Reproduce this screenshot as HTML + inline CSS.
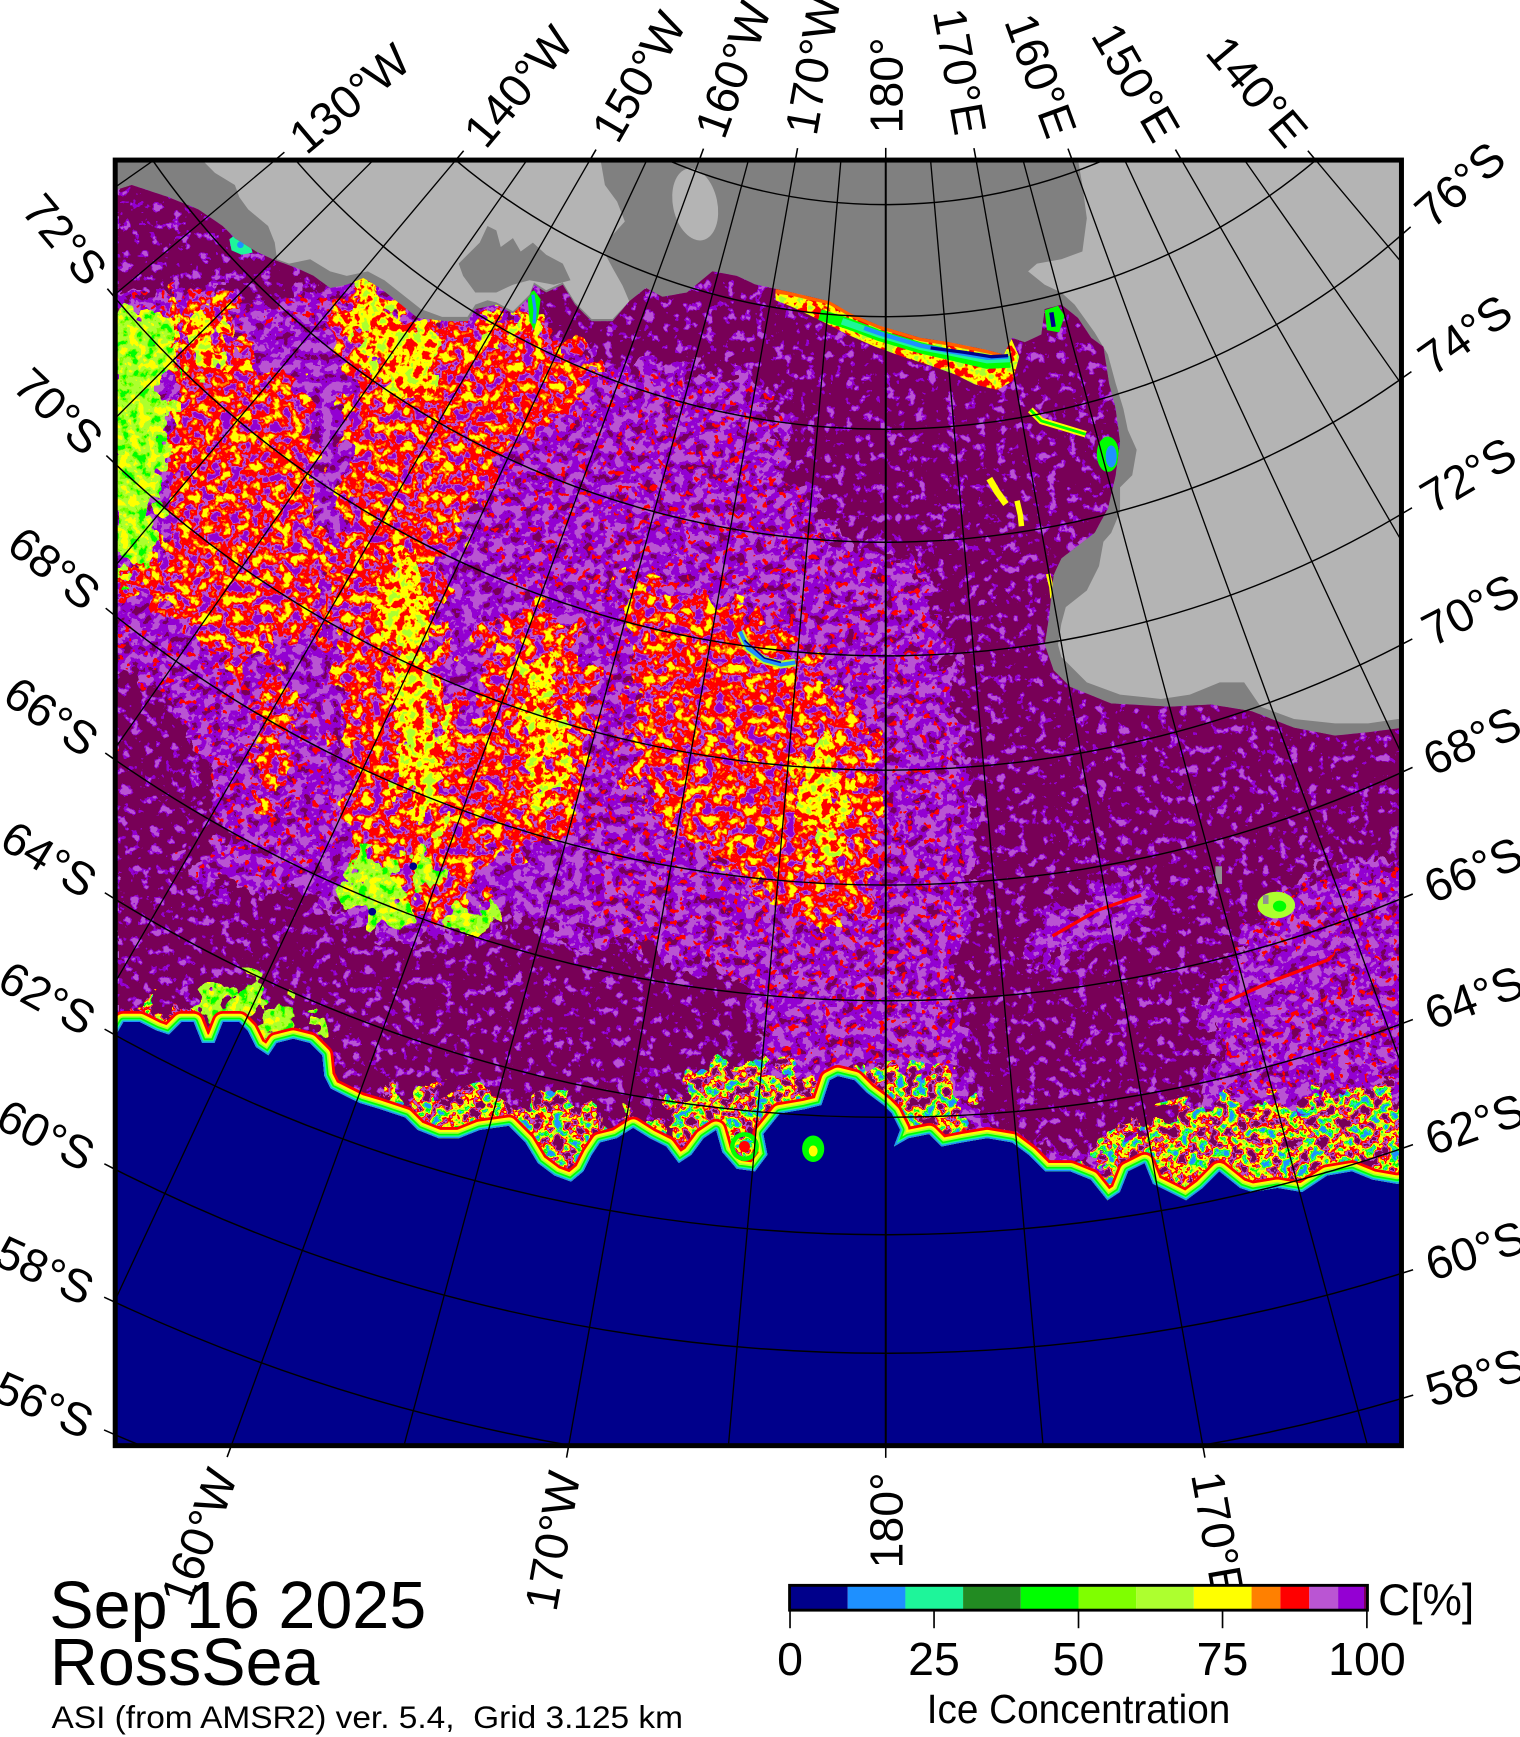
<!DOCTYPE html>
<html><head><meta charset="utf-8">
<style>html,body{margin:0;padding:0;background:#fff;width:1520px;height:1737px;overflow:hidden}svg{display:block}</style>
</head><body>
<svg xmlns="http://www.w3.org/2000/svg" width="1520" height="1737" viewBox="0 0 1372 1568" preserveAspectRatio="none" font-family="'Liberation Sans', Arial, sans-serif">
<defs>
<filter id="fV" filterUnits="userSpaceOnUse" x="104" y="144" width="1162" height="1162" color-interpolation-filters="sRGB">
<feTurbulence type="fractalNoise" baseFrequency="0.11" numOctaves="3" seed="11"/>
<feColorMatrix type="matrix" values="1 0 0 0 0 1 0 0 0 0 1 0 0 0 0 0 0 0 0 1"/>
<feComponentTransfer><feFuncR type="linear" slope="2.4" intercept="-0.7"/><feFuncG type="linear" slope="2.4" intercept="-0.7"/><feFuncB type="linear" slope="2.4" intercept="-0.7"/></feComponentTransfer>
<feComponentTransfer>
<feFuncR type="discrete" tableValues=".471 .471 .471 .58 .58 .58 .58 .58 .58 .58 .58 .58 .729 .729 .729 .729 .729 .729 .729 .729"/>
<feFuncG type="discrete" tableValues="0 0 0 0 0 0 0 0 0 0 0 0 .333 .333 .333 .333 .333 .333 .333 .333"/>
<feFuncB type="discrete" tableValues=".345 .345 .345 .827 .827 .827 .827 .827 .827 .827 .827 .827 .827 .827 .827 .827 .827 .827 .827 .827"/>
</feComponentTransfer>
</filter>
<filter id="fDM" filterUnits="userSpaceOnUse" x="104" y="144" width="1162" height="1162" color-interpolation-filters="sRGB">
<feTurbulence type="fractalNoise" baseFrequency="0.11" numOctaves="3" seed="23"/>
<feColorMatrix type="matrix" values="1 0 0 0 0 1 0 0 0 0 1 0 0 0 0 0 0 0 0 1"/>
<feComponentTransfer><feFuncR type="linear" slope="2.4" intercept="-0.7"/><feFuncG type="linear" slope="2.4" intercept="-0.7"/><feFuncB type="linear" slope="2.4" intercept="-0.7"/></feComponentTransfer>
<feComponentTransfer>
<feFuncR type="discrete" tableValues=".471 .471 .471 .471 .471 .471 .471 .471 .471 .471 .471 .471 .471 .471 .471 .58 .58 .58 .58 .729"/>
<feFuncG type="discrete" tableValues="0 0 0 0 0 0 0 0 0 0 0 0 0 0 0 0 0 0 0 .333"/>
<feFuncB type="discrete" tableValues=".345 .345 .345 .345 .345 .345 .345 .345 .345 .345 .345 .345 .345 .345 .345 .827 .827 .827 .827 .827"/>
</feComponentTransfer>
</filter>
<filter id="fR" filterUnits="userSpaceOnUse" x="104" y="144" width="1162" height="1162" color-interpolation-filters="sRGB">
<feTurbulence type="fractalNoise" baseFrequency="0.11" numOctaves="3" seed="37"/>
<feColorMatrix type="matrix" values="1 0 0 0 0 1 0 0 0 0 1 0 0 0 0 0 0 0 0 1"/>
<feComponentTransfer><feFuncR type="linear" slope="2.4" intercept="-0.7"/><feFuncG type="linear" slope="2.4" intercept="-0.7"/><feFuncB type="linear" slope="2.4" intercept="-0.7"/></feComponentTransfer>
<feComponentTransfer>
<feFuncR type="discrete" tableValues=".58 .58 .58 .729 .729 .729 .729 1 1 1 1 1 1 1 1 1 1 1 1 1"/>
<feFuncG type="discrete" tableValues="0 0 0 .333 .333 .333 .333 0 0 0 0 0 0 0 .5 .5 .5 1 1 1"/>
<feFuncB type="discrete" tableValues=".827 .827 .827 .827 .827 .827 .827 0 0 0 0 0 0 0 0 0 0 0 0 0"/>
</feComponentTransfer>
</filter>
<filter id="fY" filterUnits="userSpaceOnUse" x="104" y="144" width="1162" height="1162" color-interpolation-filters="sRGB">
<feTurbulence type="fractalNoise" baseFrequency="0.12" numOctaves="3" seed="51"/>
<feColorMatrix type="matrix" values="1 0 0 0 0 1 0 0 0 0 1 0 0 0 0 0 0 0 0 1"/>
<feComponentTransfer><feFuncR type="linear" slope="2.4" intercept="-0.7"/><feFuncG type="linear" slope="2.4" intercept="-0.7"/><feFuncB type="linear" slope="2.4" intercept="-0.7"/></feComponentTransfer>
<feComponentTransfer>
<feFuncR type="discrete" tableValues="1 1 1 1 1 1 1 1 1 1 1 1 1 1 1 1 .678 .678 .678 .678"/>
<feFuncG type="discrete" tableValues="0 0 0 0 0 0 .5 .5 1 1 1 1 1 1 1 1 1 1 1 1"/>
<feFuncB type="discrete" tableValues="0 0 0 0 0 0 0 0 0 0 0 0 0 0 0 0 .184 .184 .184 .184"/>
</feComponentTransfer>
</filter>
<filter id="fG" filterUnits="userSpaceOnUse" x="104" y="144" width="1162" height="1162" color-interpolation-filters="sRGB">
<feTurbulence type="fractalNoise" baseFrequency="0.12" numOctaves="3" seed="67"/>
<feColorMatrix type="matrix" values="1 0 0 0 0 1 0 0 0 0 1 0 0 0 0 0 0 0 0 1"/>
<feComponentTransfer><feFuncR type="linear" slope="2.4" intercept="-0.7"/><feFuncG type="linear" slope="2.4" intercept="-0.7"/><feFuncB type="linear" slope="2.4" intercept="-0.7"/></feComponentTransfer>
<feComponentTransfer>
<feFuncR type="discrete" tableValues="1 1 1 1 1 .678 .678 .678 .678 .678 .678 .678 .678 .5 .5 .5 .5 0 0 0"/>
<feFuncG type="discrete" tableValues="1 1 1 1 1 1 1 1 1 1 1 1 1 1 1 1 1 1 1 1"/>
<feFuncB type="discrete" tableValues="0 0 0 0 0 .184 .184 .184 .184 .184 .184 .184 .184 0 0 0 0 0 0 0"/>
</feComponentTransfer>
</filter>
<filter id="fF" filterUnits="userSpaceOnUse" x="104" y="144" width="1162" height="1162" color-interpolation-filters="sRGB">
<feTurbulence type="fractalNoise" baseFrequency="0.11" numOctaves="3" seed="79"/>
<feColorMatrix type="matrix" values="1 0 0 0 0 1 0 0 0 0 1 0 0 0 0 0 0 0 0 1"/>
<feComponentTransfer><feFuncR type="linear" slope="2.4" intercept="-0.7"/><feFuncG type="linear" slope="2.4" intercept="-0.7"/><feFuncB type="linear" slope="2.4" intercept="-0.7"/></feComponentTransfer>
<feComponentTransfer>
<feFuncR type="discrete" tableValues=".471 .471 .471 .471 .729 .729 .729 1 1 1 1 1 1 .678 .678 0 0 .118 .118 .118"/>
<feFuncG type="discrete" tableValues="0 0 0 0 .333 .333 .333 0 0 0 1 1 1 1 1 1 1 .98 .98 .565"/>
<feFuncB type="discrete" tableValues=".345 .345 .345 .345 .827 .827 .827 0 0 0 0 0 0 .184 .184 0 0 .6 .6 1"/>
</feComponentTransfer>
</filter>
<filter id="fS" filterUnits="userSpaceOnUse" x="104" y="144" width="1162" height="1162" color-interpolation-filters="sRGB">
<feTurbulence type="fractalNoise" baseFrequency="0.16" numOctaves="2" seed="5"/>
<feColorMatrix type="matrix" values="0 0 0 0 1 0 0 0 0 0 0 0 0 0 0 2.4 0 0 0 -0.7"/>
<feComponentTransfer><feFuncA type="discrete" tableValues="0 0 0 0 0 0 0 0 0 1"/></feComponentTransfer>
</filter>
<filter id="soft" filterUnits="userSpaceOnUse" x="90" y="130" width="1190" height="1190" color-interpolation-filters="sRGB">
<feGaussianBlur in="SourceAlpha" stdDeviation="10" result="b"/>
<feTurbulence type="fractalNoise" baseFrequency="0.05" numOctaves="3" seed="9" result="n"/>
<feColorMatrix in="n" type="matrix" values="0 0 0 0 0 0 0 0 0 0 0 0 0 0 0 3.2 0 0 0 -1.1" result="na"/>
<feComposite in="b" in2="na" operator="arithmetic" k1="0" k2="1" k3="0.8" k4="-0.4" result="c"/>
<feComponentTransfer in="c" result="t"><feFuncA type="discrete" tableValues="0 1"/></feComponentTransfer>
<feFlood flood-color="#ffffff" result="w"/>
<feComposite in="w" in2="t" operator="in"/>
</filter>

<path id="edge" d="M1266,1068 L1260.7,1068.6 1239,1064.8 1220.3,1057.3 1197.9,1061.1 1175.4,1076 1153,1072.3 1130.5,1076 1119.3,1072.3 1100.6,1057.3 1085.6,1072.3 1070.6,1083.5 1055.7,1076 1040.7,1068.6 1033.2,1049.9 1018.3,1057.3 1010.8,1076 999.6,1083.5 984.6,1064.8 965.9,1057.3 943.4,1057.3 928.5,1042.4 913.5,1031.2 891.1,1027.4 868.6,1031.2 849.9,1034.9 838.7,1023.7 820,1027.4 806.9,1034.9 812.5,1019.9 805,1005 797.5,997.5 782.5,986.3 771.3,975 756.3,971.3 748.9,975 741.4,997.5 726.4,1001.2 704,1005 689,1023.7 692.7,1042.4 681.5,1057.3 665,1055 652,1040 646.4,1019.9 635.1,1027.4 624,1042.4 612.7,1049.9 601.5,1034.9 586.5,1027.4 571.5,1018 556.6,1027.4 541.6,1031.2 534.1,1042.4 526.6,1057.3 515.4,1066.7 500.5,1061.1 485.5,1049.9 474.2,1031.2 459.3,1016.2 433.1,1019.9 414.4,1027.4 395.7,1027.4 377,1019.9 365.7,1008.7 343.3,1001.2 324.6,995.6 313.3,990 298.4,982.5 292.8,971.3 290.9,952.6 279.7,941.4 264.7,937.6 249.7,941.4 242.2,952.6 231,945.1 223.5,930.1 216,922.6 201.1,922.6 193.6,941.4 182.4,941.4 174.9,922.6 163.7,922.6 152.4,933.9 141.2,930.1 126.3,922.6 111.3,922.6 103,937"/>

<clipPath id="cf"><rect x="104" y="144.5" width="1161" height="1160.5"/></clipPath>
<clipPath id="cIce"><polygon points="103,172 119,167 152,178 179,189 201,204 212,215 231,227 246,234 268,242 283,249 298,260 313,257 328,251 343,260 362,275 377,287 403,290 422,290 429,279 448,275 463,283 478,268 482,257 493,264 508,257 519,275 534,290 553,290 568,272 583,260 598,268 620,264 643,245 665,249 681.5,256.7 715,264 749,272 768,283 794,294 831,305 857,309 891,316 906,320 913.5,305 925,309 940,302 943,279 958,275 973,287 985,305 996,313 1001,346 1007,369 1011,399 1007,429 1000,459 988,481 958,504 951,519 947,556 943,582 951,605 966,620 1003,635 1056,638 1093,636 1130,642 1168,657 1205,664 1235,661 1266,657 1266,1068 1260.7,1068.6 1239,1064.8 1220.3,1057.3 1197.9,1061.1 1175.4,1076 1153,1072.3 1130.5,1076 1119.3,1072.3 1100.6,1057.3 1085.6,1072.3 1070.6,1083.5 1055.7,1076 1040.7,1068.6 1033.2,1049.9 1018.3,1057.3 1010.8,1076 999.6,1083.5 984.6,1064.8 965.9,1057.3 943.4,1057.3 928.5,1042.4 913.5,1031.2 891.1,1027.4 868.6,1031.2 849.9,1034.9 838.7,1023.7 820,1027.4 806.9,1034.9 812.5,1019.9 805,1005 797.5,997.5 782.5,986.3 771.3,975 756.3,971.3 748.9,975 741.4,997.5 726.4,1001.2 704,1005 689,1023.7 692.7,1042.4 681.5,1057.3 665,1055 652,1040 646.4,1019.9 635.1,1027.4 624,1042.4 612.7,1049.9 601.5,1034.9 586.5,1027.4 571.5,1018 556.6,1027.4 541.6,1031.2 534.1,1042.4 526.6,1057.3 515.4,1066.7 500.5,1061.1 485.5,1049.9 474.2,1031.2 459.3,1016.2 433.1,1019.9 414.4,1027.4 395.7,1027.4 377,1019.9 365.7,1008.7 343.3,1001.2 324.6,995.6 313.3,990 298.4,982.5 292.8,971.3 290.9,952.6 279.7,941.4 264.7,937.6 249.7,941.4 242.2,952.6 231,945.1 223.5,930.1 216,922.6 201.1,922.6 193.6,941.4 182.4,941.4 174.9,922.6 163.7,922.6 152.4,933.9 141.2,930.1 126.3,922.6 111.3,922.6 103,937"/></clipPath>
<clipPath id="cS">
<polygon points="520,330 700,345 720,440 760,490 830,505 860,600 870,700 870,850 865,960 690,960 690,900 640,870 540,850 520,700 540,600 520,500 560,400"/>
<polygon points="103,560 230,600 300,640 305,760 250,808 103,776"/>
<polygon points="1100,800 1266,780 1266,980 1100,990"/>
<polygon points="440,400 540,340 560,520 470,540 420,470"/>
<polygon points="103,262 300,262 300,300 210,300 103,300"/>
</clipPath>

<mask id="mDM" maskUnits="userSpaceOnUse" x="90" y="130" width="1190" height="1190"><g filter="url(#soft)">
<polygon points="95,150 119,150 152,160 179,171 201,186 212,197 231,209 246,216 268,224 283,231 298,242 290,270 250,266 210,269 170,262 135,266 95,266"/>
<polygon points="478,294 482,240 493,246 508,240 519,257 534,272 553,272 568,254 583,242 598,250 620,246 643,227 665,231 681.5,239 715,246 749,254 768,265 794,276 831,287 857,291 891,298 906,302 913.5,287 925,291 940,284 943,261 958,257 973,269 985,287 996,295 1005,338 1013,361 1017,391 1021,429 1014,459 1002,481 972,504 965,519 961,556 957,582 965,605 980,610 1003,620 1056,622 1093,620 1130,626 1168,641 1205,648 1235,645 1280,641 1280,787 1225,772 1185,790 1145,812 1112,850 1102,900 1095,960 1080,1010 1040,1035 990,1045 950,1040 915,1028 885,1015 870,980 866,900 870,850 882,800 880,740 870,690 860,640 858,590 848,540 830,505 790,498 750,480 722,440 705,400 695,350 640,336 580,330 530,322 500,312"/>
<polygon points="95,776 150,790 200,800 250,808 290,815 320,835 360,848 400,845 440,835 480,836 520,845 560,855 600,865 640,875 670,890 690,920 690,960 683,1000 681.5,1075 665,1073 652,1055 646,1035 635,1042 624,1057 612,1065 601,1050 586,1042 571,1033 556,1042 541,1046 534,1057 526,1072 515,1082 500,1076 485,1065 474,1046 459,1031 433,1035 414,1042 395,1042 377,1035 365,1024 343,1016 324,1011 313,1005 298,998 292,986 290,968 279,956 264,953 249,956 242,968 231,960 223,945 216,938 201,938 193,956 182,956 175,938 163,938 152,949 141,945 126,938 111,938 95,952"/>
<polygon points="95,600 140,620 170,660 190,720 200,770 150,785 95,776"/>
</g></mask>
<mask id="mO" maskUnits="userSpaceOnUse" x="90" y="130" width="1190" height="1190"><g filter="url(#soft)">
<polygon points="920,855 958,815 1000,794 1034,792 1050,815 1014,840 980,856 946,874"/>
<polygon points="1080,908 1120,874 1160,858 1204,849 1222,878 1184,898 1140,914 1096,928"/>
</g></mask>
<mask id="mR" maskUnits="userSpaceOnUse" x="90" y="130" width="1190" height="1190"><g filter="url(#soft)">
<polygon points="150,262 205,265 212,300 228,330 268,336 284,360 286,420 290,470 298,520 290,560 255,585 225,600 200,590 170,570 150,545 120,532 95,532 95,505 140,500 150,470 152,300"/>
<polygon points="298,262 330,252 362,275 377,287 403,290 422,290 430,280 448,276 463,283 478,268 492,298 520,312 538,335 520,368 480,388 455,400 440,430 420,470 405,500 398,560 402,620 420,660 440,700 445,760 440,800 425,825 395,835 355,822 325,802 312,770 310,700 305,640 300,580 300,520 310,480 313,420 313,350 305,310"/>
<polygon points="440,560 480,548 515,560 532,600 536,660 530,710 520,748 490,762 455,772 440,740 430,680 428,620"/>
<polygon points="560,520 600,528 640,540 680,555 720,580 760,620 785,660 795,720 790,790 780,830 745,842 705,818 665,792 625,765 588,735 565,695 572,640 566,580"/>
<polygon points="228,605 250,600 262,640 258,700 246,735 232,720 230,660"/>
</g></mask>
<mask id="mY" maskUnits="userSpaceOnUse" x="90" y="130" width="1190" height="1190"><g filter="url(#soft)">
<polygon points="312,270 330,258 355,270 372,286 395,294 396,320 388,346 372,362 350,355 334,335 322,300"/>
<polygon points="425,289 440,278 465,285 478,270 483,290 470,303 440,303"/>
<polygon points="348,500 362,486 380,515 390,575 396,640 399,700 392,748 380,756 368,732 358,680 354,600 347,540"/>
<polygon points="472,600 488,586 502,610 506,660 502,718 490,732 478,714 473,660"/>
<polygon points="720,675 740,666 760,700 766,740 762,782 746,790 730,766 720,720"/>
<polygon points="152,288 175,278 202,290 206,320 188,336 162,328"/>
</g></mask>
<clipPath id="cP"><polygon points="700,262 715,264 749,272 768,283 794,294 831,305 857,309 891,316 906,320 913,306 920,322 914,344 900,352 880,347 862,338 840,330 815,322 790,313 765,302 740,289 715,277 700,271"/></clipPath>
<mask id="mG" maskUnits="userSpaceOnUse" x="90" y="130" width="1190" height="1190"><g filter="url(#soft)">
<polygon points="95,278 125,274 150,288 152,330 150,400 146,460 136,500 120,520 95,522"/>
<polygon points="172,925 183,903 200,892 215,885 230,883 235,900 228,922 216,924 201,925"/>
<polygon points="230,932 238,910 255,902 272,907 283,925 288,948 270,943 250,943 242,953"/>
<polygon points="310,790 324,769 346,780 362,804 381,822 370,841 345,835 323,820"/>
<polygon points="355,778 372,762 395,775 391,798 370,801"/>
<polygon points="407,826 424,811 445,828 436,849 416,845"/>
</g></mask>
<mask id="mF" maskUnits="userSpaceOnUse" x="90" y="130" width="1190" height="1190"><g filter="url(#soft)">
<polygon points="590,1022 606,992 635,968 668,956 700,958 732,966 748,975 742,998 726,1001 704,1005 689,1024 692,1042 681,1067 665,1065 652,1050 646,1030 635,1037 624,1052 612,1060 601,1045"/>
<polygon points="982,1052 1000,1022 1040,1010 1080,1000 1120,990 1160,998 1200,988 1240,982 1275,978 1275,1080 1239,1075 1220,1067 1198,1071 1175,1086 1153,1082 1130,1086 1119,1082 1100,1067 1086,1082 1071,1093 1056,1086 1041,1079 1033,1060 1018,1067 1011,1086 1000,1093 985,1075"/>
<polygon points="758,976 775,964 800,958 830,962 860,972 872,990 868,1041 850,1045 839,1034 820,1037 807,1045 812,1030 805,1015 797,1007 782,996 771,985"/>
<polygon points="340,1000 360,985 390,980 420,985 450,990 470,1000 474,1041 459,1026 433,1030 414,1037 396,1037 377,1030 366,1019 343,1011"/>
<polygon points="470,1000 500,995 530,1000 560,1005 572,1028 557,1037 542,1041 534,1052 527,1067 515,1077 500,1071 486,1060 474,1041"/>
<polygon points="95,925 115,912 130,905 150,905 165,912 175,922 175,935 164,933 152,944 141,940 126,933 111,933 95,947"/>
</g></mask>
</defs>

<g clip-path="url(#cf)">
<rect x="104" y="144" width="1162" height="1162" fill="#00008b"/>
<rect x="104" y="144" width="1162" height="560" fill="#808080"/>
<polygon fill="#b4b4b4" points="182,144 542,144 546,167 557,182 564,200 553,212 545,227 553,242 562,258 568,272 553,288 534,288 519,273 508,255 493,262 482,255 478,266 463,281 448,273 440,271 429,275 422,286 399,286 380,279 366,268 347,253 332,245 313,249 298,245 280,234 261,238 250,234 248,219 242,204 224,189 216,178 212,167 194,156"/>
<polygon fill="#808080" points="414,238 418,249 429,264 448,264 463,257 478,253 500,257 515,253 508,238 493,230 481,219 470,227 463,215 452,223 448,208 440,204 433,219 422,230"/>
<ellipse cx="627.5" cy="184.5" rx="20" ry="33" transform="rotate(-12 627.5 184.5)" fill="#b4b4b4"/>
<polygon fill="#b4b4b4" points="973,144 977,167 981,197 977,227 958,234 936,238 928,245 943,257 958,264 970,275 988,300 1000,320 1007,346 1014,369 1018,388 1026,406 1022,429 1011,440 1011,462 1003,481 996,489 992,511 981,533 962,548 958,563 955,582 958,593 981,616 1011,627 1048,631 1074,627 1101,616 1123,616 1138,638 1168,649 1205,653 1235,653 1262,649 1266,649 1266,144"/>

<g clip-path="url(#cIce)">
<rect x="104" y="144" width="1162" height="1162" fill="#000" filter="url(#fV)"/>
<g clip-path="url(#cS)"><rect x="104" y="144" width="1162" height="1162" filter="url(#fS)"/></g>
<rect x="104" y="144" width="1162" height="1162" filter="url(#fDM)" mask="url(#mDM)"/>
<rect x="104" y="144" width="1162" height="1162" filter="url(#fV)" mask="url(#mO)"/>
<polyline points="950,845 990,822 1030,808" fill="none" stroke="#ff0000" stroke-width="3"/>
<polyline points="1105,905 1150,885 1200,866" fill="none" stroke="#ff0000" stroke-width="3"/>
<rect x="104" y="144" width="1162" height="1162" filter="url(#fR)" mask="url(#mR)"/>
<rect x="104" y="144" width="1162" height="1162" filter="url(#fY)" mask="url(#mY)"/>
<g clip-path="url(#cP)"><rect x="104" y="144" width="1162" height="1162" filter="url(#fY)"/></g>
<rect x="104" y="144" width="1162" height="1162" filter="url(#fG)" mask="url(#mG)"/>
<rect x="104" y="144" width="1162" height="1162" filter="url(#fF)" mask="url(#mF)"/>
<!-- Ross shelf polynya -->
<polyline points="700,263 715,265 749,273 768,284 794,295 831,306 857,310 891,317 906,321" fill="none" stroke="#ff6000" stroke-width="4"/>
<polyline points="740,284 768,293 794,303 831,314 857,320 891,328 912,327" fill="none" stroke="#00ff00" stroke-width="10"/>
<polyline points="760,290 794,302 831,313 857,318 891,325 912,324" fill="none" stroke="#1ef59a" stroke-width="6"/>
<polyline points="780,296 794,301 831,312 857,317 891,323 910,322" fill="none" stroke="#1e90ff" stroke-width="4"/>
<polyline points="840,314 870,318 895,322 910,321" fill="none" stroke="#00008b" stroke-width="3"/>
<!-- ice edge fringe -->
<g fill="none" stroke-linejoin="round" stroke-linecap="round">
<use href="#edge" stroke="#ff0000" stroke-width="20"/>
<use href="#edge" stroke="#ffff00" stroke-width="15"/>
<use href="#edge" stroke="#adff2f" stroke-width="11"/>
<use href="#edge" stroke="#00ff00" stroke-width="8"/>
<use href="#edge" stroke="#1ef59a" stroke-width="5"/>
<use href="#edge" stroke="#1e90ff" stroke-width="2.5"/>
</g>
<!-- small features -->
<polygon points="207,216 215,210 225,218 228,228 218,230 209,226" fill="#1ef59a"/>
<circle cx="217" cy="221" r="3" fill="#1e90ff"/>
<polygon points="476,266 482,262 488,270 486,285 482,298 478,290" fill="#00ff00"/>
<polyline points="481,266 483,280 482,292" fill="none" stroke="#1e90ff" stroke-width="3"/>
<polygon points="943,280 955,276 961,285 956,300 945,298" fill="#00ff00"/>
<polyline points="949,282 951,295" stroke="#00008b" stroke-width="4"/>
<polyline points="930,370 940,380 960,386 980,392" fill="none" stroke="#ffff00" stroke-width="6"/>
<polyline points="930,370 940,380 960,386 980,392" fill="none" stroke="#00ff00" stroke-width="2.5"/>
<ellipse cx="1000" cy="410" rx="10" ry="16" fill="#00ff00"/>
<ellipse cx="1003" cy="412" rx="5" ry="10" fill="#1e90ff"/>
<polyline points="893,432 900,444 908,455" fill="none" stroke="#ffff00" stroke-width="6"/>
<polyline points="918,452 921,465 922,475" fill="none" stroke="#ffff00" stroke-width="5"/>
<polyline points="946,518 949,530 950,540" fill="none" stroke="#ffff00" stroke-width="4"/>
<polyline points="668,570 675,585 690,596 705,600 718,598" fill="none" stroke="#adff2f" stroke-width="7"/>
<polyline points="668,570 675,585 690,596 705,600 718,598" fill="none" stroke="#1e90ff" stroke-width="3.5"/>
<polyline points="672,578 690,594 705,598" fill="none" stroke="#00008b" stroke-width="1.5"/>
<circle cx="373" cy="782" r="3.5" fill="#00008b"/>
<circle cx="336" cy="823" r="3.5" fill="#00008b"/>
<ellipse cx="1152" cy="817" rx="17" ry="12" fill="#adff2f"/>
<ellipse cx="1155" cy="818" rx="6" ry="5" fill="#00ff00"/>
<rect x="1097" y="782" width="6" height="16" fill="#909090"/>
<rect x="1140" y="808" width="5" height="8" fill="#909090"/>
</g>
<circle cx="672" cy="1035" r="11" fill="none" stroke="#00ff00" stroke-width="4"/>
<circle cx="672" cy="1035" r="5" fill="#ff0000"/>
<ellipse cx="734" cy="1037" rx="10" ry="12" fill="#00ff00"/>
<ellipse cx="734" cy="1039" rx="4" ry="5" fill="#ffff00"/>

<!-- graticule: meridians -->
<g transform="translate(799.5,-318)" stroke="#000" stroke-width="1.2" fill="none">
<line x1="0" y1="803" x2="0" y2="852" transform="rotate(55)"/>
<line x1="0" y1="716" x2="0" y2="911" transform="rotate(50)"/>
<line x1="0" y1="651" x2="0" y2="987" transform="rotate(45)"/>
<line x1="0" y1="600" x2="0" y2="1085" transform="rotate(40)"/>
<line x1="0" y1="561" x2="0" y2="1216" transform="rotate(35)"/>
<line x1="0" y1="531" x2="0" y2="1394" transform="rotate(30)"/>
<line x1="0" y1="507" x2="0" y2="1649" transform="rotate(25)"/>
<line x1="0" y1="489" x2="0" y2="1730" transform="rotate(20)"/>
<line x1="0" y1="475" x2="0" y2="1683" transform="rotate(15)"/>
<line x1="0" y1="466" x2="0" y2="1651" transform="rotate(10)"/>
<line x1="0" y1="461" x2="0" y2="1632" transform="rotate(5)"/>
<line x1="0" y1="459" x2="0" y2="1626" stroke-width="1.8"/>
<line x1="0" y1="461" x2="0" y2="1632" transform="rotate(-5)"/>
<line x1="0" y1="466" x2="0" y2="1651" transform="rotate(-10)"/>
<line x1="0" y1="475" x2="0" y2="1683" transform="rotate(-15)"/>
<line x1="0" y1="489" x2="0" y2="1364" transform="rotate(-20)"/>
<line x1="0" y1="507" x2="0" y2="1105" transform="rotate(-25)"/>
<line x1="0" y1="531" x2="0" y2="934" transform="rotate(-30)"/>
<line x1="0" y1="561" x2="0" y2="815" transform="rotate(-35)"/>
<line x1="0" y1="600" x2="0" y2="727" transform="rotate(-40)"/>
<line x1="0" y1="651" x2="0" y2="661" transform="rotate(-45)"/>
</g>
<!-- graticule: parallels -->
<g fill="none" stroke="#000" stroke-width="1.3">
<path d="M602.5,144.5 A502.7,502.7 0 0 0 996.5,144.5"/>
<path d="M411.2,144.5 A603.9,603.9 0 0 0 1187.8,144.5"/>
<path d="M266.7,144.5 A705.5,705.5 0 0 0 1265,212.1"/>
<path d="M137.6,144.5 A807.5,807.5 0 0 0 1265,341.8"/>
<path d="M104,269 A910.1,910.1 0 0 0 1265,464"/>
<path d="M104,418.8 A1013.2,1013.2 0 0 0 1265,581.9"/>
<path d="M104,555.9 A1116.9,1116.9 0 0 0 1265,697.3"/>
<path d="M104,686 A1221.4,1221.4 0 0 0 1265,811.2"/>
<path d="M104,811.7 A1326.6,1326.6 0 0 0 1265,924.2"/>
<path d="M104,934.4 A1432.6,1432.6 0 0 0 1265,1036.9"/>
<path d="M104,1055.6 A1539.6,1539.6 0 0 0 1265,1149.5"/>
<path d="M104,1175.6 A1647.6,1647.6 0 0 0 1265,1262.5"/>
<path d="M104,1295.2 A1756.7,1756.7 0 0 0 127.3,1305"/>
</g>
</g>
<rect x="104" y="144.5" width="1161" height="1160.5" fill="none" stroke="#000" stroke-width="4.5"/>

<!-- ticks -->
<g stroke="#000" stroke-width="1.4">
<line x1="248.3" y1="144.5" x2="256.7" y2="137.4"/><line x1="411.4" y1="144.5" x2="418.5" y2="136.1"/><line x1="532.5" y1="144.5" x2="538" y2="135"/><line x1="631.2" y1="144.5" x2="635" y2="134.2"/><line x1="717.95" y1="144.5" x2="719.9" y2="133.7"/><line x1="799.5" y1="144.5" x2="799.5" y2="133.5"/><line x1="881.05" y1="144.5" x2="879.1" y2="133.7"/><line x1="967.8" y1="144.5" x2="964" y2="134.2"/><line x1="1066.5" y1="144.5" x2="1061" y2="135"/><line x1="1187.6" y1="144.5" x2="1180.5" y2="136.1"/>
<line x1="208.8" y1="1305" x2="205" y2="1315.3"/><line x1="513.3" y1="1305" x2="511.4" y2="1315.8"/><line x1="799.5" y1="1305" x2="799.5" y2="1316"/><line x1="1085.7" y1="1305" x2="1087.6" y2="1315.8"/>
<line x1="104" y1="269" x2="96.9" y2="260.6"/><line x1="104" y1="418.8" x2="96" y2="411.2"/><line x1="104" y1="555.9" x2="95.4" y2="549"/><line x1="104" y1="686" x2="95" y2="679.7"/><line x1="104" y1="811.7" x2="94.6" y2="805.9"/><line x1="104" y1="934.4" x2="94.4" y2="929"/><line x1="104" y1="1055.6" x2="94.2" y2="1050.6"/><line x1="104" y1="1175.6" x2="94" y2="1171"/><line x1="104" y1="1295.2" x2="93.9" y2="1290.8"/>
<line x1="1265" y1="212.1" x2="1273.3" y2="204.8"/><line x1="1265" y1="341.8" x2="1274" y2="335.5"/><line x1="1265" y1="464" x2="1274.5" y2="458.4"/><line x1="1265" y1="581.9" x2="1274.8" y2="576.8"/><line x1="1265" y1="697.3" x2="1275" y2="692.7"/><line x1="1265" y1="811.2" x2="1275.2" y2="807"/><line x1="1265" y1="924.2" x2="1275.3" y2="920.3"/><line x1="1265" y1="1036.9" x2="1275.4" y2="1033.3"/><line x1="1265" y1="1149.5" x2="1275.5" y2="1146.2"/><line x1="1265" y1="1262.5" x2="1275.6" y2="1259.4"/>
</g>

<!-- labels -->
<g font-size="42" fill="#000">
<text transform="translate(266.7,129.1) rotate(-40)" dy="0.36em">130°W</text>
<text transform="translate(426.8,126.1) rotate(-50)" dy="0.36em">140°W</text>
<text transform="translate(544.5,123.7) rotate(-60)" dy="0.36em">150°W</text>
<text transform="translate(639.4,122) rotate(-70)" dy="0.36em">160°W</text>
<text transform="translate(722.1,120.9) rotate(-80)" dy="0.36em">170°W</text>
<text transform="translate(799.5,120.5) rotate(-90)" dy="0.36em">180°</text>
<text transform="translate(876.9,120.9) rotate(80)" dy="0.36em" text-anchor="end">170°E</text>
<text transform="translate(959.6,122) rotate(70)" dy="0.36em" text-anchor="end">160°E</text>
<text transform="translate(1054.5,123.7) rotate(60)" dy="0.36em" text-anchor="end">150°E</text>
<text transform="translate(1172.2,126.1) rotate(50)" dy="0.36em" text-anchor="end">140°E</text>

<text transform="translate(200.6,1327.6) rotate(-70)" dy="0.36em" text-anchor="end">160°W</text>
<text transform="translate(509.1,1328.6) rotate(-80)" dy="0.36em" text-anchor="end">170°W</text>
<text transform="translate(799.5,1329) rotate(-90)" dy="0.36em" text-anchor="end">180°</text>
<text transform="translate(1089.9,1328.6) rotate(80)" dy="0.36em">170°E</text>

<text transform="translate(88.5,250.7) rotate(49.83)" dy="0.36em" text-anchor="end">72°S</text>
<text transform="translate(86.5,402.3) rotate(43.35)" dy="0.36em" text-anchor="end">70°S</text>
<text transform="translate(85.2,541) rotate(38.51)" dy="0.36em" text-anchor="end">68°S</text>
<text transform="translate(84.3,672.3) rotate(34.71)" dy="0.36em" text-anchor="end">66°S</text>
<text transform="translate(83.6,799.1) rotate(31.62)" dy="0.36em" text-anchor="end">64°S</text>
<text transform="translate(83,922.7) rotate(29.05)" dy="0.36em" text-anchor="end">62°S</text>
<text transform="translate(82.6,1044.8) rotate(26.86)" dy="0.36em" text-anchor="end">60°S</text>
<text transform="translate(82.2,1165.5) rotate(24.97)" dy="0.36em" text-anchor="end">58°S</text>
<text transform="translate(82,1285.7) rotate(23.32)" dy="0.36em" text-anchor="end">56°S</text>

<text transform="translate(1283,196.3) rotate(-41.28)" dy="0.36em">76°S</text>
<text transform="translate(1284.6,328) rotate(-35.2)" dy="0.36em">74°S</text>
<text transform="translate(1285.6,451.7) rotate(-30.77)" dy="0.36em">72°S</text>
<text transform="translate(1286.3,570.9) rotate(-27.35)" dy="0.36em">70°S</text>
<text transform="translate(1286.8,687.3) rotate(-24.63)" dy="0.36em">68°S</text>
<text transform="translate(1287.2,802.1) rotate(-22.4)" dy="0.36em">66°S</text>
<text transform="translate(1287.5,915.8) rotate(-20.54)" dy="0.36em">64°S</text>
<text transform="translate(1287.7,1029.1) rotate(-18.96)" dy="0.36em">62°S</text>
<text transform="translate(1287.9,1142.2) rotate(-17.6)" dy="0.36em">60°S</text>
<text transform="translate(1288,1255.7) rotate(-16.41)" dy="0.36em">58°S</text>
</g>

<!-- title -->
<text x="44.5" y="1469.8" font-size="60">Sep 16 2025</text>
<text x="45" y="1521" font-size="60">RossSea</text>
<text x="46.5" y="1560" font-size="28" xml:space="preserve" textLength="570" lengthAdjust="spacingAndGlyphs">ASI (from AMSR2) ver. 5.4,  Grid 3.125 km</text>

<!-- colorbar -->
<rect x="713.1" y="1431" width="52.1" height="23" fill="#00008b"/>
<rect x="765.2" y="1431" width="52.1" height="23" fill="#1e90ff"/>
<rect x="817.2" y="1431" width="52.1" height="23" fill="#1ef59a"/>
<rect x="869.3" y="1431" width="52.1" height="23" fill="#228b22"/>
<rect x="921.4" y="1431" width="52.1" height="23" fill="#00ff00"/>
<rect x="973.5" y="1431" width="52.1" height="23" fill="#7fff00"/>
<rect x="1025.5" y="1431" width="52.1" height="23" fill="#adff2f"/>
<rect x="1077.6" y="1431" width="52.1" height="23" fill="#ffff00"/>
<rect x="1129.7" y="1431" width="26" height="23" fill="#ff8000"/>
<rect x="1155.7" y="1431" width="26.1" height="23" fill="#ff0000"/>
<rect x="1181.8" y="1431" width="26" height="23" fill="#ba55d3"/>
<rect x="1207.8" y="1431" width="23.4" height="23" fill="#9400d3"/>
<rect x="1231.2" y="1431" width="2.6" height="23" fill="#780058"/>
<rect x="712.7" y="1431.1" width="521.6" height="22.4" fill="none" stroke="#000" stroke-width="2.6"/>
<g stroke="#000" stroke-width="1.5">
<line x1="713.1" y1="1454.7" x2="713.1" y2="1469.8"/><line x1="843.1" y1="1454.7" x2="843.1" y2="1469.8"/><line x1="973.5" y1="1454.7" x2="973.5" y2="1469.8"/><line x1="1103.5" y1="1454.7" x2="1103.5" y2="1469.8"/><line x1="1233.8" y1="1454.7" x2="1233.8" y2="1469.8"/>
</g>
<g font-size="42" text-anchor="middle">
<text x="713.1" y="1511.9">0</text><text x="843.1" y="1511.9">25</text><text x="973.5" y="1511.9">50</text><text x="1103.5" y="1511.9">75</text><text x="1233.8" y="1511.9">100</text>
</g>
<text x="973.5" y="1555.5" font-size="37" text-anchor="middle" textLength="274" lengthAdjust="spacingAndGlyphs">Ice Concentration</text>
<text x="1244" y="1457.7" font-size="40">C[%]</text>
</svg>
</body></html>
